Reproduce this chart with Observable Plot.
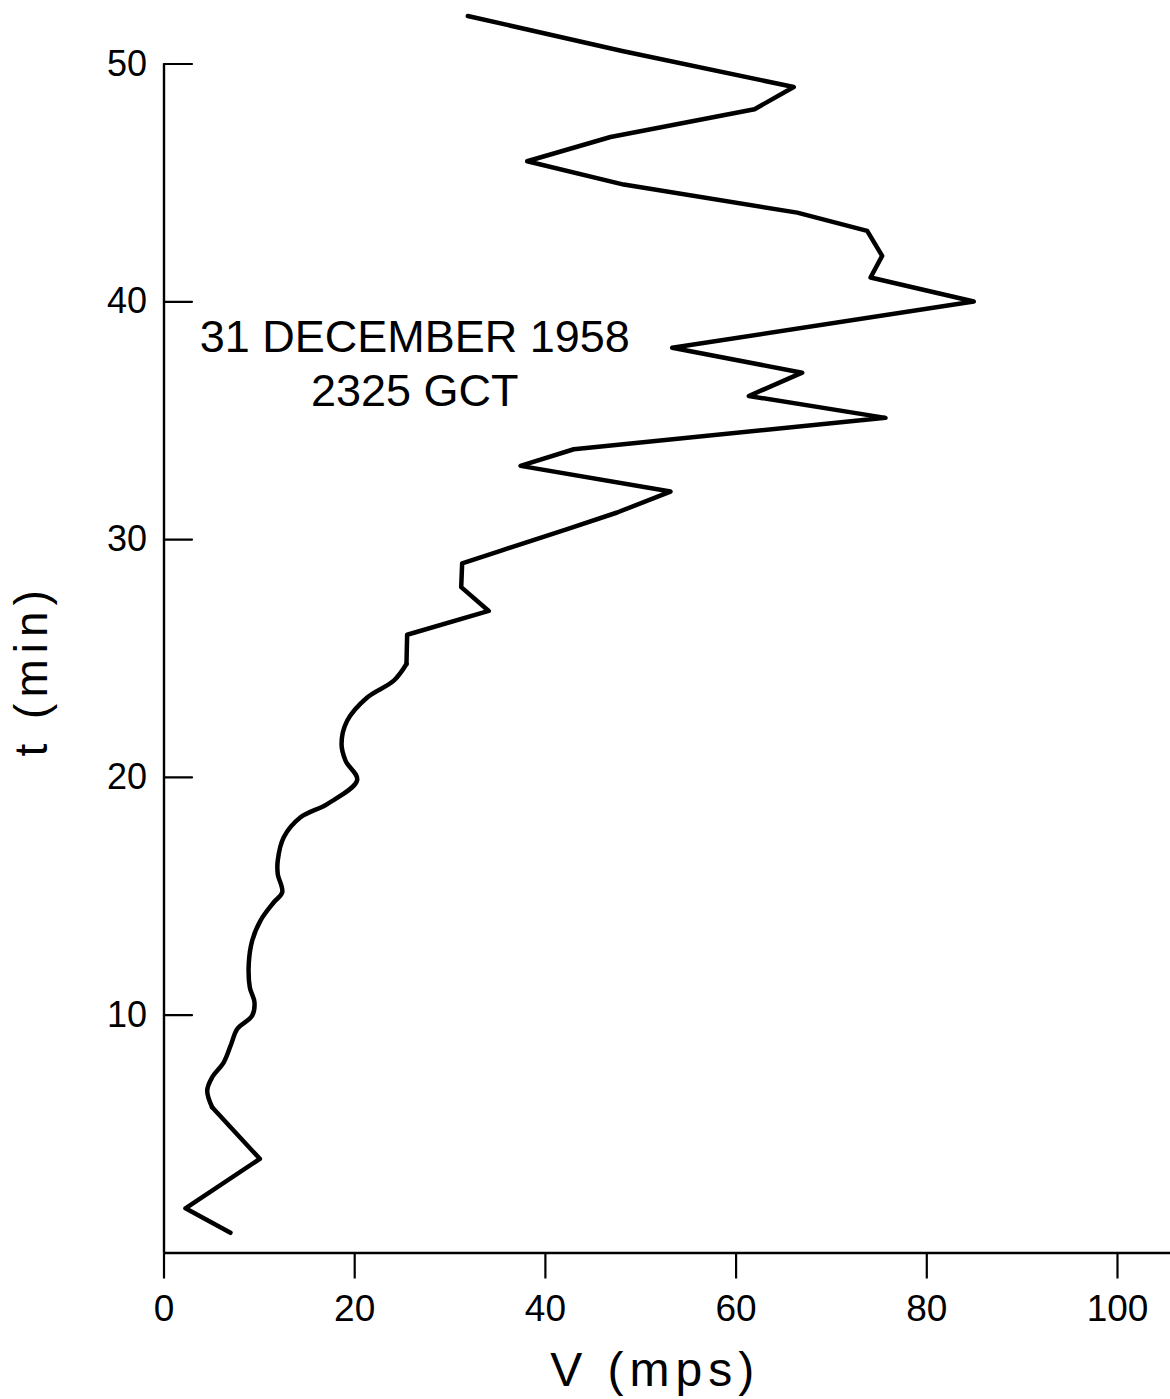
<!DOCTYPE html>
<html>
<head>
<meta charset="utf-8">
<script src="https://cdn.jsdelivr.net/npm/d3@7"></script>
<script src="https://cdn.jsdelivr.net/npm/@observablehq/plot@0.6"></script>
<style>
  html, body { margin: 0; padding: 0; background: #fff; }
  #chart svg { display: block; }
</style>
</head>
<body>
<div id="chart"></div>
<script>
// Time since start (min) and velocity V (mps)
const timeMin = [0.85, 1.88, 3.96, 6.13, 6.83, 7.39, 8.02, 8.79, 9.42, 9.98, 10.54, 11.17, 12.16, 13.14, 13.98, 14.75, 15.17, 15.94, 16.5, 17.48, 18.32, 18.88, 19.89, 20.7, 21.4, 22.38, 23.36, 24.07, 24.77, 26.0, 27.0, 28.0, 29.0, 29.53, 30.44, 31.14, 32.02, 33.1, 33.8, 35.12, 36.04, 37.02, 38.07, 40.01, 41.02, 41.93, 42.98, 43.75, 44.93, 45.91, 46.93, 48.1, 49.03, 50.55, 52.02];
const velocity = [6.97, 2.25, 10.05, 5.05, 4.53, 5.05, 6.27, 7.05, 7.68, 9.25, 9.49, 9.0, 8.89, 9.25, 10.12, 11.52, 12.4, 11.93, 11.93, 12.56, 14.32, 17.12, 20.26, 19.04, 18.62, 19.21, 21.31, 24.1, 25.43, 25.5, 34.06, 31.17, 31.27, 35.29, 42.29, 47.53, 53.12, 37.39, 42.98, 75.67, 61.33, 66.93, 53.3, 84.93, 74.1, 75.32, 73.75, 66.41, 48.22, 38.09, 46.83, 61.93, 66.05, 48.05, 31.86];

const xTicks = [0, 20, 40, 60, 80, 100];
const yTicks = [10, 20, 30, 40, 50];
const xTitle = "V (mps)";
const yTitle = "t (min)";
const noteLines = ["31 DECEMBER 1958", "2325 GCT"];
// the trace is drawn smoothly (pen-drawn) between these two times, angular elsewhere
const smoothFrom = 6.13;
const smoothTo = 24.77;

const rows = timeMin.map((t, i) => ({t, v: velocity[i]}));
const lowRows = rows.filter(d => d.t <= smoothFrom);
const midRows = rows.filter(d => d.t >= smoothFrom && d.t <= smoothTo);
const highRows = rows.filter(d => d.t >= smoothTo);

// a plain straight tick drawn from the anchor point
const stick = {draw(context, l) { context.moveTo(0, 0); context.lineTo(0, -l); }};
const lineStyle = {x: "v", y: "t", stroke: "#000", strokeWidth: 4.5, strokeLinejoin: "round", strokeLinecap: "round"};

const chart = Plot.plot({
  width: 1170,
  height: 1399,
  marginLeft: 163.5,
  marginRight: 0,
  marginTop: 10,
  marginBottom: 146.5,
  style: {fontFamily: "'Liberation Sans', Arial, sans-serif", background: "#fff", color: "#000"},
  x: {domain: [0, 105.56]},
  y: {domain: [0, 52.25]},
  marks: [
    Plot.axisX({ticks: xTicks, tickSize: 26, tickPadding: 16, fontSize: 37, label: null, strokeWidth: 2.2, tickFormat: d => String(d)}),
    Plot.axisY({ticks: yTicks, tickSize: 0, tickPadding: 17, fontSize: 36, label: null, tickFormat: d => String(d)}),
    Plot.vector(yTicks, {x: 0, y: d => d, length: 28, rotate: 90, anchor: "start", shape: stick, stroke: "#000", strokeWidth: 2.2}),
    Plot.ruleY([0], {stroke: "#000", strokeWidth: 2.4}),
    Plot.ruleX([0], {y1: 0, y2: yTicks[yTicks.length - 1], stroke: "#000", strokeWidth: 2.4}),
    Plot.line(lowRows, lineStyle),
    Plot.line(midRows, {...lineStyle, curve: "catmull-rom"}),
    Plot.line(highRows, lineStyle),
    Plot.text([noteLines.join("\n")], {x: 26.3, y: 39.5, text: d => d, textAnchor: "middle", lineAnchor: "top", lineHeight: 1.2, fontSize: 45, fill: "#000"}),
    Plot.text([xTitle], {frameAnchor: "bottom", text: d => d, lineAnchor: "bottom", dx: -12, dy: 133, fontSize: 48, fill: "#000"}),
    Plot.text([yTitle], {frameAnchor: "left", text: d => d, rotate: -90, lineAnchor: "bottom", dx: -117.5, dy: 124.75, fontSize: 46, fill: "#000"})
  ]
});

d3.select(chart).selectAll("text").each(function () {
  const s = this.textContent;
  if (s === xTitle || s === yTitle) d3.select(this).style("letter-spacing", "6px");
});

document.getElementById("chart").appendChild(chart);
</script>
</body>
</html>
